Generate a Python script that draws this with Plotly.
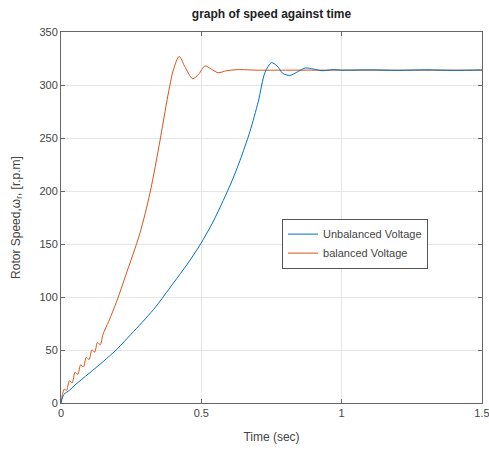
import plotly.graph_objects as go

# Balanced voltage (orange)
t_bal = [0, 0.005, 0.012, 0.02, 0.03, 0.04, 0.05, 0.06, 0.07, 0.08, 0.09, 0.10,
         0.11, 0.12, 0.13, 0.14, 0.15, 0.17, 0.20, 0.23, 0.281, 0.317, 0.353,
         0.376, 0.40, 0.421, 0.44, 0.469, 0.49, 0.513, 0.535, 0.56, 0.59, 0.63,
         0.7, 0.8, 1.0, 1.5]
v_bal = [0, 8, 13, 12, 21, 19, 29, 27, 36, 34, 43, 41, 50, 48, 57, 55, 65, 77,
         97, 120, 160, 198, 248, 283, 314, 327, 318, 306, 310, 318, 315, 311.6,
         313.5, 314.5, 314, 314, 314, 314]

# Unbalanced voltage (blue)
t_unb = [0, 0.005, 0.01, 0.03, 0.05, 0.1, 0.15, 0.2, 0.25, 0.329, 0.40, 0.45,
         0.495, 0.54, 0.578, 0.61, 0.638, 0.673, 0.703, 0.727, 0.75, 0.77, 0.79,
         0.815, 0.84, 0.87, 0.90, 0.93, 0.97, 1.0, 1.1, 1.2, 1.3, 1.4, 1.5]
v_unb = [0, 5, 8, 12, 17, 28, 39, 51, 65, 88, 113, 131, 149, 170, 191, 210, 229,
         256, 284.5, 312, 321, 318, 311, 309, 312, 316, 315, 313.5, 314.5, 314,
         314.3, 313.8, 314.3, 313.8, 314.2]

x_ticks = [0, 0.5, 1, 1.5]
x_tick_text = ["0", "0.5", "1", "1.5"]
y_ticks = [0, 50, 100, 150, 200, 250, 300, 350]

fig = go.Figure()
fig.add_trace(go.Scatter(x=t_bal, y=v_bal, mode="lines", name="balanced Voltage",
                         line=dict(color="#D95319", width=1, shape="spline", smoothing=0.8),
                         legendrank=2))
fig.add_trace(go.Scatter(x=t_unb, y=v_unb, mode="lines", name="Unbalanced Voltage",
                         line=dict(color="#0072BD", width=1, shape="spline", smoothing=0.8),
                         legendrank=1))

axis_common = dict(showline=True, linecolor="#666666", linewidth=1, mirror="allticks",
                   ticks="inside", ticklen=4, tickcolor="#666666",
                   showgrid=True, gridcolor="#e6e6e6", gridwidth=1, zeroline=False,
                   ticklabeloverflow="allow", automargin=False,
                   tickfont=dict(family="Liberation Sans, Arial", size=11, color="#444444"))

fig.update_layout(
    width=489, height=450,
    margin=dict(l=61, r=7, t=32, b=47),
    paper_bgcolor="white", plot_bgcolor="white",
    title=dict(text="<b>graph of speed against time</b>", x=(61 + 482) / 2 / 489,
               xanchor="center", y=1 - 14 / 450, yanchor="middle",
               font=dict(family="Liberation Sans, Arial", size=12, color="#222222")),
    xaxis=dict(range=[0, 1.5], tickvals=x_ticks, ticktext=x_tick_text,
               title=dict(text="Time (sec)", standoff=14,
                          font=dict(family="Liberation Sans, Arial", size=12, color="#444444")),
               **axis_common),
    yaxis=dict(range=[0, 350], tickvals=y_ticks,
               title=dict(text="Rotor Speed,ω<sub>r</sub>, [r.p.m]", standoff=16,
                          font=dict(family="Liberation Sans, Arial", size=12, color="#444444")),
               **axis_common),
    legend=dict(x=0.525, y=0.497, xanchor="left", yanchor="top",
                bgcolor="white", bordercolor="#555555", borderwidth=1,
                font=dict(family="Liberation Sans, Arial", size=11, color="#444444"),
                itemwidth=30, tracegroupgap=0),
    showlegend=True,
)

fig.write_html("out.html")
